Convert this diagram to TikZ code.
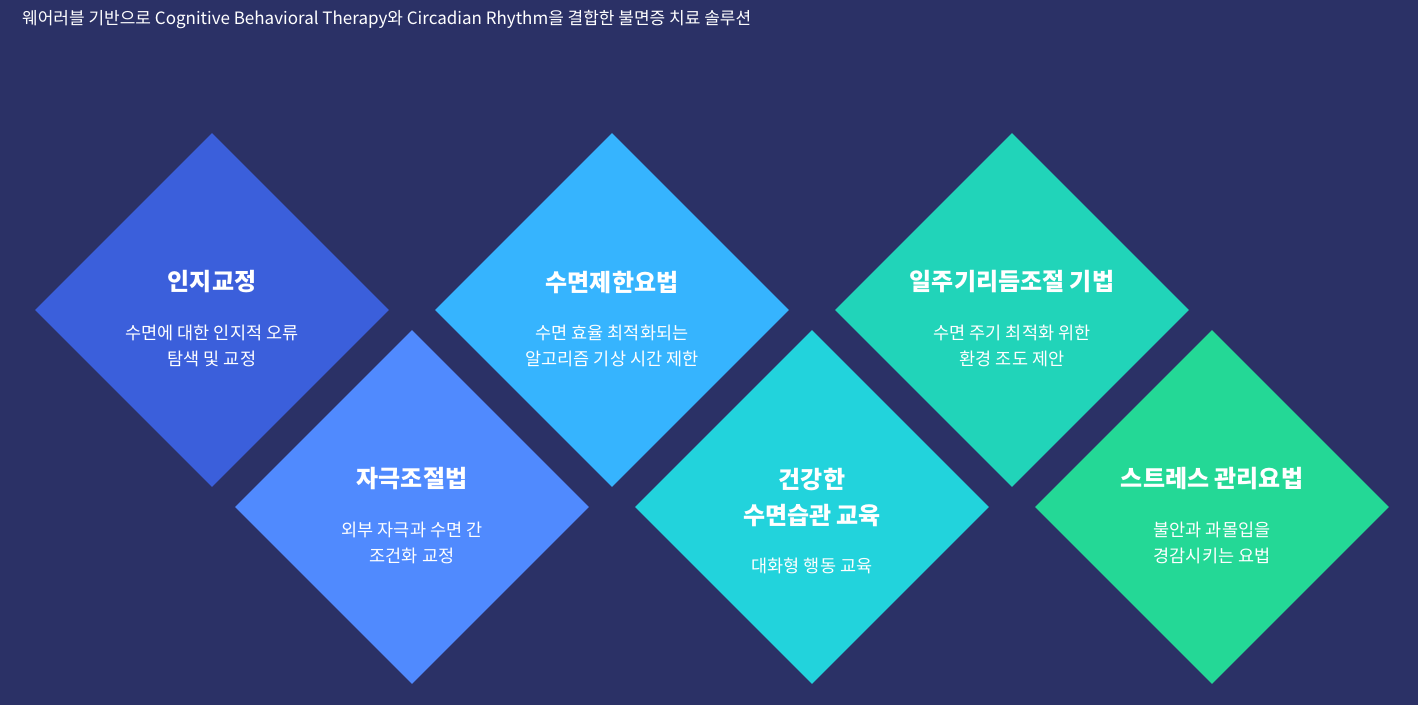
\documentclass[tikz,border=0pt]{standalone}
\usepackage{fontspec}
\setmainfont{Noto Sans CJK KR}
\usetikzlibrary{shapes.geometric}

\definecolor{bgnavy}{HTML}{2B3166}
\definecolor{cogblue}{HTML}{3B5FDB}
\definecolor{stimblue}{HTML}{508AFE}
\definecolor{restsky}{HTML}{36B4FE}
\definecolor{habitcyan}{HTML}{22D3DC}
\definecolor{rhythmteal}{HTML}{21D4B9}
\definecolor{stressgreen}{HTML}{24D896}

\begin{document}
\begin{tikzpicture}[x=1pt,y=-1pt,
  tile/.style={diamond,aspect=1,minimum width=354pt,minimum height=354pt,inner sep=0pt,draw=none},
  head/.style={text=white,font=\fontsize{24}{36}\selectfont\bfseries,align=center,inner sep=0pt},
  desc/.style={text=white,font=\fontsize{17.5}{26}\selectfont,align=center,inner sep=0pt}]

\fill[bgnavy] (0,0) rectangle (1418,705);
\useasboundingbox (0,0) rectangle (1418,705);

\node[anchor=west,text=white,font=\fontsize{17}{20}\selectfont,inner sep=0pt] (title) at (22,20)
  {웨어러블 기반으로 Cognitive Behavioral Therapy와 Circadian Rhythm을 결합한 불면증 치료 솔루션};

\node[tile,fill=cogblue] (cog) at (212,310) {};
\node[tile,fill=stimblue] (stim) at (412,507) {};
\node[tile,fill=restsky] (rest) at (612,310) {};
\node[tile,fill=habitcyan] (habit) at (812,507) {};
\node[tile,fill=rhythmteal] (rhythm) at (1012,310) {};
\node[tile,fill=stressgreen] (stress) at (1212,507) {};

\node[head] (coghead) at (212,282) {인지교정};
\node[desc] (cogdesc) at (212,346) {수면에 대한 인지적 오류\\탐색 및 교정};

\node[head] (stimhead) at (412,479) {자극조절법};
\node[desc] (stimdesc) at (412,543) {외부 자극과 수면 간\\조건화 교정};

\node[head] (resthead) at (612,282) {수면제한요법};
\node[desc] (restdesc) at (612,346) {수면 효율 최적화되는\\알고리즘 기상 시간 제한};

\node[head] (habithead) at (812,497) {건강한\\수면습관 교육};
\node[desc] (habitdesc) at (812,566) {대화형 행동 교육};

\node[head] (rhythmhead) at (1012,282) {일주기리듬조절 기법};
\node[desc] (rhythmdesc) at (1012,346) {수면 주기 최적화 위한\\환경 조도 제안};

\node[head] (stresshead) at (1212,479) {스트레스 관리요법};
\node[desc] (stressdesc) at (1212,543) {불안과 과몰입을\\경감시키는 요법};
\end{tikzpicture}
\end{document}
